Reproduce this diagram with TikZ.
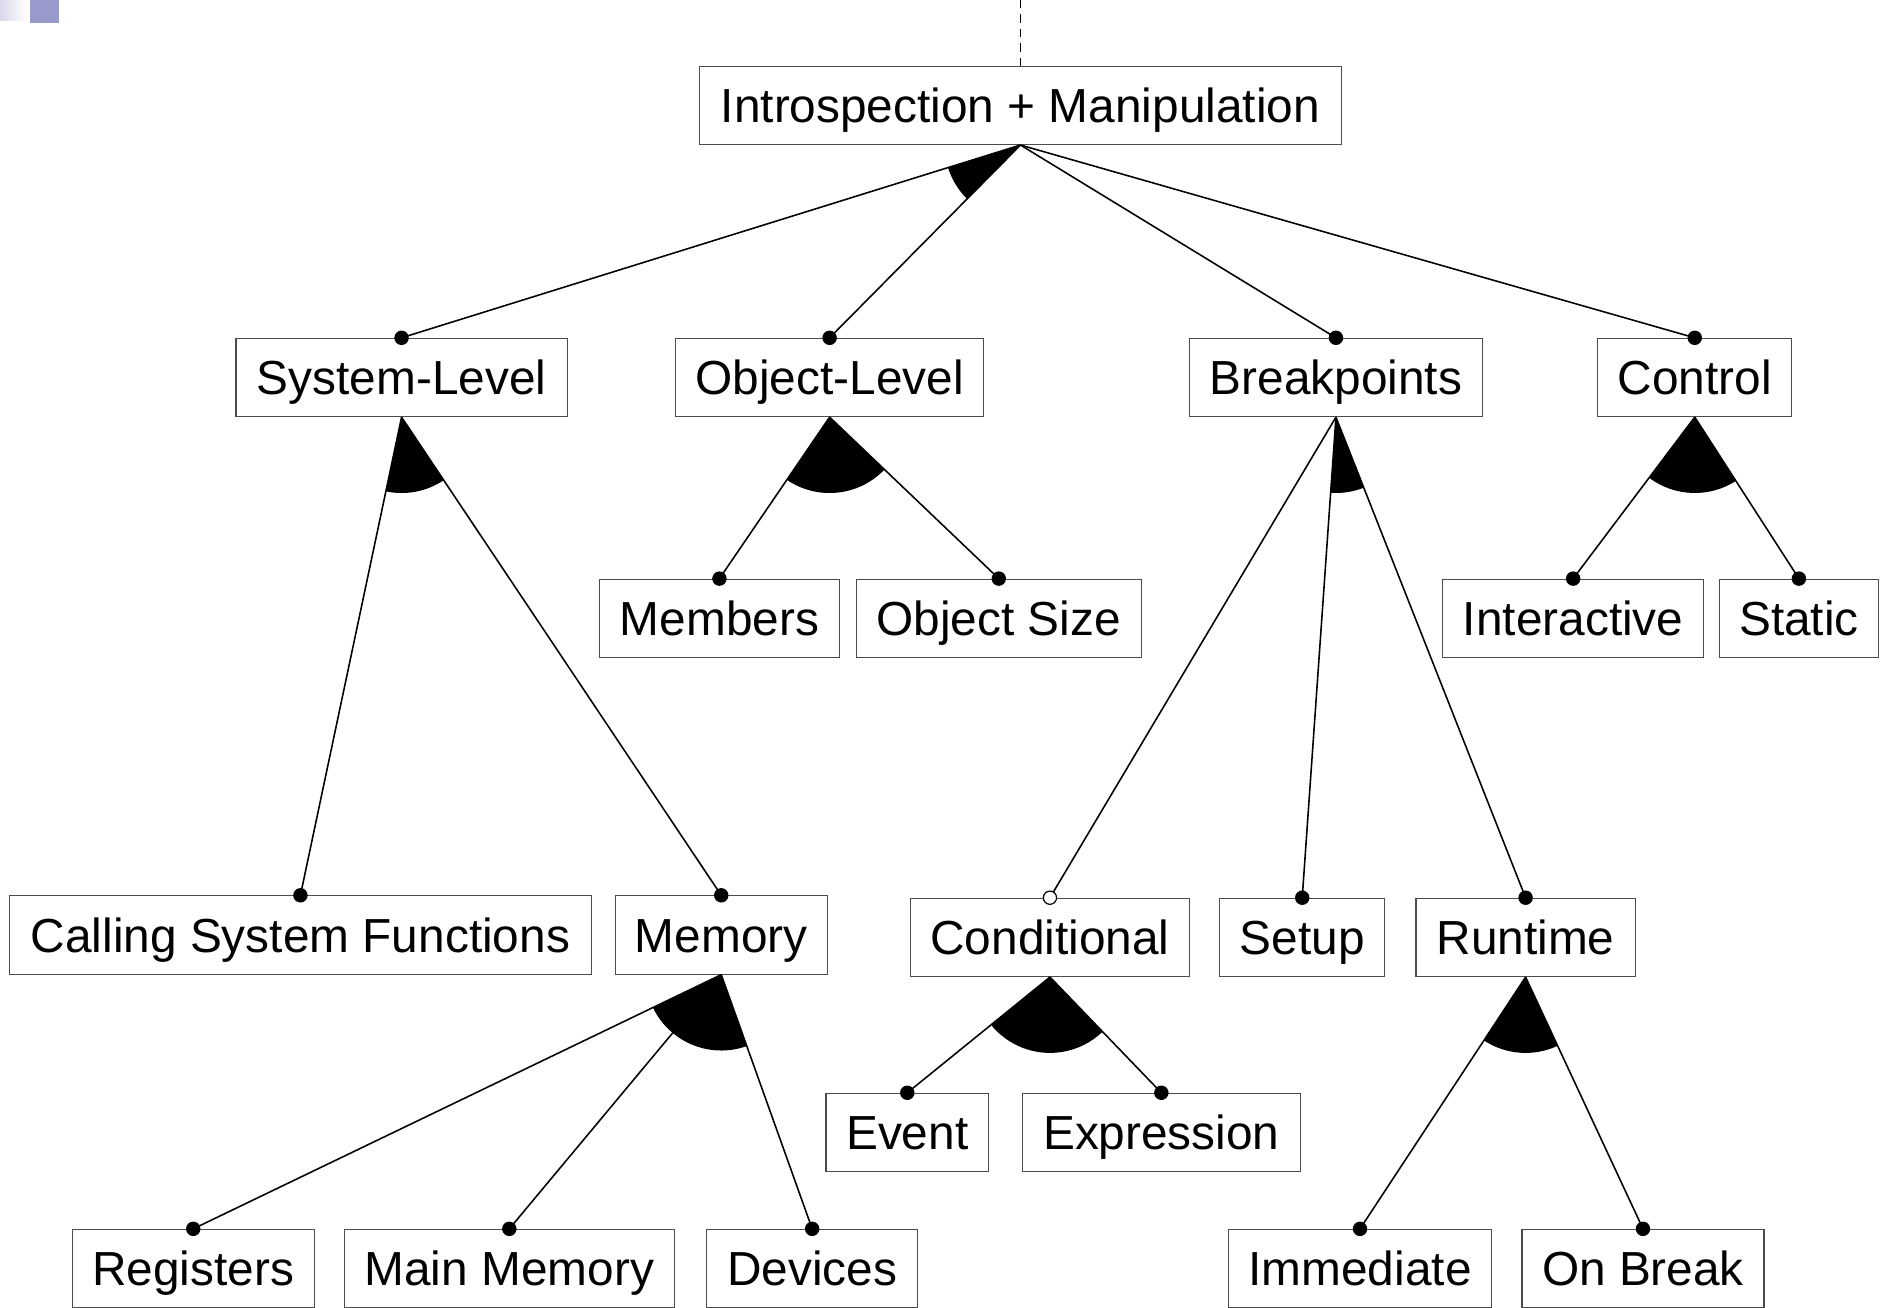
\documentclass[tikz,border=0pt]{standalone}
\usepackage{fontspec}
\setmainfont{Liberation Sans}
\usetikzlibrary{calc}
\definecolor{decorpurple}{RGB}{153,153,204}
\definecolor{decorlight}{RGB}{216,216,236}
\newcommand\orgroup[3]{%
  \fill let \p1=($(#2.north)-(#1.south)$), \p2=($(#3.north)-(#1.south)$),
    \n1={atan2(\y1,\x1)}, \n2={atan2(\y2,\x2)} in
    (#1.south) -- ++(\n1:63pt) arc[start angle=\n1, end angle=\n2, radius=63pt] -- cycle;}
\begin{document}
\begin{tikzpicture}[x=1pt,y=-1pt,
  feat/.style={draw=black!70, line width=0.9pt, rectangle, inner sep=0pt,
    minimum height=65pt, text height=28.4pt, text depth=0pt,
    font=\fontsize{39.7}{45}\selectfont},
  conn/.style={line width=1.3pt},
  mandot/.style={fill=black},
  optdot/.style={draw=black, fill=white, line width=1pt}]
\useasboundingbox (0,0) rectangle (1568,1086);
% decoration top-left
\shade[left color=decorlight, right color=white] (0,0) rectangle (22.4,17.4);
\fill[decorpurple] (25,0) rectangle (49,19);
% nodes
\node[feat, minimum width=533pt] (intro) at (847.5,87.5) {Introspection + Manipulation};
\node[feat, minimum width=275pt] (sys) at (333.5,313.5) {System-Level};
\node[feat, minimum width=256pt] (obj) at (689,313.5) {Object-Level};
\node[feat, minimum width=243pt] (brk) at (1109.5,313.5) {Breakpoints};
\node[feat, minimum width=161pt] (ctl) at (1407.5,313.5) {Control};
\node[feat, minimum width=199pt] (mbr) at (597.5,513.5) {Members};
\node[feat, minimum width=237pt] (osz) at (829.5,513.5) {Object Size};
\node[feat, minimum width=217pt] (inter) at (1306.5,513.5) {Interactive};
\node[feat, minimum width=132pt] (stat) at (1494,513.5) {Static};
\node[feat, minimum width=483pt] (call) at (249.5,776.5) {Calling System Functions};
\node[feat, minimum width=176pt] (memory) at (599,776.5) {Memory};
\node[feat, minimum width=232pt] (cond) at (872,778.5) {Conditional};
\node[feat, minimum width=137pt] (setup) at (1081.5,778.5) {Setup};
\node[feat, minimum width=182pt] (run) at (1267,778.5) {Runtime};
\node[feat, minimum width=135pt] (event) at (753.5,940.5) {Event};
\node[feat, minimum width=231pt] (expr) at (964.5,940.5) {Expression};
\node[feat, minimum width=201pt] (reg) at (160.5,1053.5) {Registers};
\node[feat, minimum width=274pt] (mainm) at (423,1053.5) {Main Memory};
\node[feat, minimum width=175pt] (dev) at (674.5,1053.5) {Devices};
\node[feat, minimum width=219pt] (imm) at (1129.5,1053.5) {Immediate};
\node[feat, minimum width=201pt] (onb) at (1364.5,1053.5) {On Break};
% dashed incoming
\coordinate (top) at (847.5,0);
\draw[conn, dash pattern=on 7pt off 5pt] (top) -- (intro.north);
% or-group sectors
\orgroup{intro}{sys}{obj}
\orgroup{sys}{call}{memory}
\orgroup{obj}{mbr}{osz}
\orgroup{brk}{setup}{run}
\orgroup{ctl}{inter}{stat}
\orgroup{memory}{reg}{dev}
\orgroup{cond}{event}{expr}
\orgroup{run}{imm}{onb}
% connectors
\foreach \p/\c in {intro/sys, intro/obj, intro/brk, intro/ctl,
  sys/call, sys/memory, obj/mbr, obj/osz,
  brk/cond, brk/setup, brk/run, ctl/inter, ctl/stat,
  memory/reg, memory/mainm, memory/dev,
  cond/event, cond/expr, run/imm, run/onb}
  \draw[conn] (\p.south) -- (\c.north);
% dots
\foreach \c in {sys, obj, brk, ctl, call, memory, mbr, osz, setup, run,
  inter, stat, reg, mainm, dev, event, expr, imm, onb}
  \fill[mandot] (\c.north) circle (6pt);
\filldraw[optdot] (cond.north) circle (5.5pt);
\end{tikzpicture}
\end{document}
